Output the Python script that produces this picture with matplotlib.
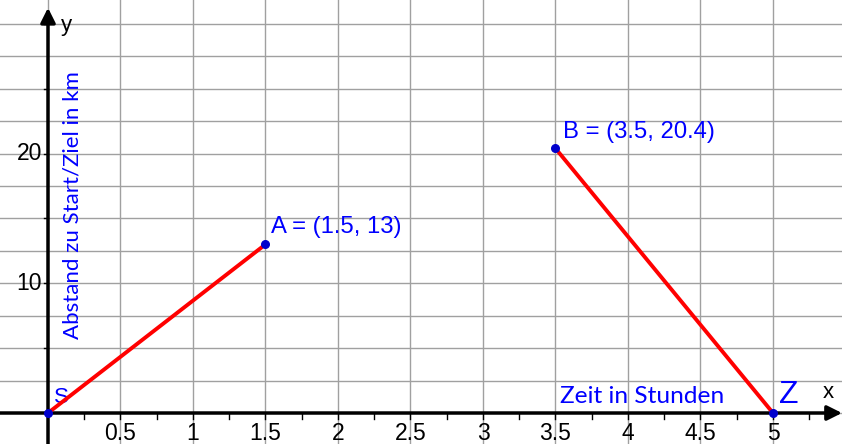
import matplotlib
matplotlib.use("Agg")
import matplotlib.pyplot as plt
import numpy as np

# Data
segment1_x = [0, 1.5]
segment1_y = [0, 13]
segment2_x = [3.5, 5]
segment2_y = [20.4, 0]
point_names = ["S", "A", "B", "Z"]
point_x = [0, 1.5, 3.5, 5]
point_y = [0, 13, 20.4, 0]
x_tick_values = [0.5, 1, 1.5, 2, 2.5, 3, 3.5, 4, 4.5, 5]
x_tick_labels = ["0.5", "1", "1.5", "2", "2.5", "3", "3.5", "4", "4.5", "5"]
y_tick_values = [10, 20]
y_tick_labels = ["10", "20"]
x_label = "Zeit in Stunden"
y_label = "Abstand zu Start/Ziel in km"

XMIN, XMAX = -0.331, 5.476
YMIN, YMAX = -2.39, 31.84

fig = plt.figure(figsize=(8.42, 4.44), dpi=100)
ax = fig.add_axes([0, 0, 1, 1])
ax.set_xlim(XMIN, XMAX)
ax.set_ylim(YMIN, YMAX)
for s in ax.spines.values():
    s.set_visible(False)
ax.set_xticks([])
ax.set_yticks([])

blue = "#0000ff"
gridc = "#a0a0a0"
tickfont = ["Liberation Sans", "DejaVu Sans"]

# grid
for gx in np.arange(-0.5, 6.0, 0.5):
    ax.axvline(gx, color=gridc, lw=1.0, zorder=0)
for gy in np.arange(-2.5, 33, 2.5):
    ax.axhline(gy, color=gridc, lw=1.0, zorder=0)

# axes with arrows
ax.annotate("", xy=(XMAX, 0), xytext=(XMIN, 0),
            arrowprops=dict(arrowstyle="-|>", color="black", lw=2.5, mutation_scale=22,
                            shrinkA=0, shrinkB=0), zorder=3)
ax.annotate("", xy=(0, YMAX - 0.6), xytext=(0, YMIN),
            arrowprops=dict(arrowstyle="-|>", color="black", lw=2.5, mutation_scale=22,
                            shrinkA=0, shrinkB=0), zorder=3)

# ticks
for tx in np.arange(0.25, 5.3, 0.25):
    ax.plot([tx, tx], [0, -0.45], color="black", lw=1, zorder=3)
for ty in np.arange(5, 31, 5):
    ax.plot([-0.025, 0], [ty, ty], color="black", lw=1, zorder=3)

for v, lab in zip(x_tick_values, x_tick_labels):
    ax.text(v, -1.55, lab, ha="center", va="center", fontsize=16.5,
            family=tickfont, color="black")
for v, lab in zip(y_tick_values, y_tick_labels):
    ax.text(-0.04, v, lab, ha="right", va="center", fontsize=16.5,
            family=tickfont, color="black")

ax.text(5.38, 1.6, "x", ha="center", va="center", fontsize=16, family=tickfont)
ax.text(0.125, 29.9, "y", ha="center", va="center", fontsize=16, family=tickfont)

# segments
ax.plot(segment1_x, segment1_y, color="#ff0000", lw=2.8, zorder=4)
ax.plot(segment2_x, segment2_y, color="#ff0000", lw=2.8, zorder=4)
ax.scatter(point_x, point_y, s=30, color="#0000cc", zorder=5)

# point labels
ax.text(point_x[0] + 0.04, point_y[0] + 1.2, point_names[0], color=blue, fontsize=16,
        family=tickfont, ha="left", va="center")
ax.text(point_x[1] + 0.04, point_y[1] + 1.35, f"{point_names[1]} = ({point_x[1]:g}, {point_y[1]:g})",
        color=blue, fontsize=17.2, family=tickfont, ha="left", va="center")
ax.text(point_x[2] + 0.05, point_y[2] + 1.3, f"{point_names[2]} = ({point_x[2]:g}, {point_y[2]:g})",
        color=blue, fontsize=17.2, family=tickfont, ha="left", va="center")
ax.text(point_x[3] + 0.04, point_y[3] + 1.35, point_names[3], color=blue, fontsize=23,
        family=tickfont, ha="left", va="center")

# axis labels
ax.text(3.53, 1.25, x_label, color=blue, fontsize=17.6, family=["Lato", "DejaVu Sans"],
        ha="left", va="center")
ax.text(0.17, 16.0, y_label, color=blue, fontsize=16, family=["Lato", "DejaVu Sans"],
        ha="center", va="center", rotation=90)

fig.savefig("out.png", dpi=100)
